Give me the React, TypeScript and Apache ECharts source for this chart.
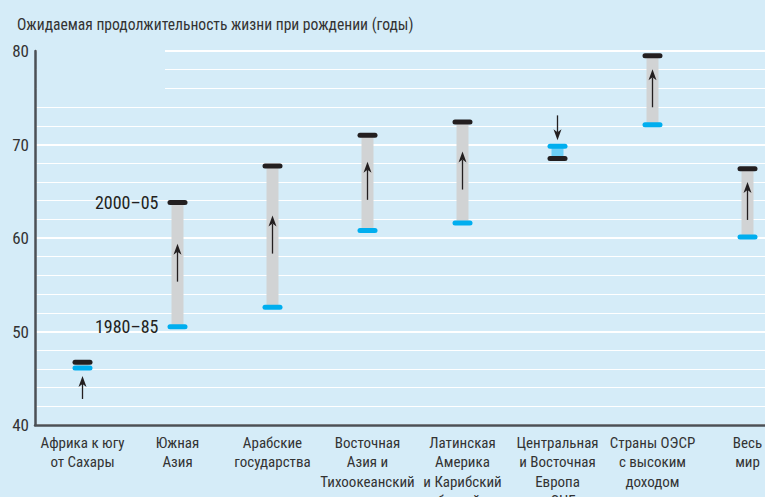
import React, { useEffect, useRef } from 'react';
import * as echarts from 'echarts';

const categories = [
  'Африка к югу\nот Сахары',
  'Южная\nАзия',
  'Арабские\nгосударства',
  'Восточная\nАзия и\nТихоокеанский\nрегион',
  'Латинская\nАмерика\nи Карибский\nбассейн',
  'Центральная\nи Восточная\nЕвропа\nи СНГ',
  'Страны ОЭСР\nс высоким\nдоходом',
  'Весь\nмир',
];
const life1980 = [46.1, 50.5, 52.6, 60.8, 61.6, 69.8, 72.1, 60.1];
const life2000 = [46.7, 63.8, 67.7, 71.0, 72.4, 68.5, 79.5, 67.4];
const periodLabels = ['1980–85', '2000–05'];
const titleText = 'Ожидаемая продолжительность жизни при рождении (годы)';

const FONT = "'Roboto Condensed', 'Liberation Sans Narrow', 'DejaVu Sans Condensed', sans-serif";
const BG = '#d5ecf8';
const INK = '#231f20';
const BLUE = '#00aeef';

export default function App() {
  const ref = useRef<HTMLDivElement>(null);
  useEffect(() => {
    const chart = echarts.init(ref.current!, null, { renderer: 'svg' });
    const data = categories.map((_, i) => [i, life1980[i], life2000[i]]);
    chart.setOption({
      animation: false,
      backgroundColor: BG,
      title: {
        text: titleText,
        left: 12,
        top: 12,
        textStyle: { fontFamily: FONT, fontSize: 15.6, fontWeight: 'normal', color: '#333' },
      },
      grid: { left: 35, top: 51, width: 760, height: 374, outerBoundsMode: 'none', containLabel: false },
      xAxis: {
        type: 'category',
        data: categories,
        boundaryGap: true,
        axisLine: { show: true, lineStyle: { color: '#4b5056', width: 2.5 } },
        axisTick: { show: false },
        axisLabel: {
          interval: 0,
          fontFamily: FONT,
          fontSize: 15,
          lineHeight: 19.5,
          color: '#333',
          margin: 8,
        },
        splitLine: { show: false },
      },
      yAxis: {
        type: 'value',
        min: 40,
        max: 80,
        interval: 10,
        axisLine: { show: true, lineStyle: { color: '#4b5056', width: 2.5 } },
        axisTick: { show: false },
        axisLabel: { fontFamily: FONT, fontSize: 17, color: '#333', margin: 6 },
        splitLine: { show: true, lineStyle: { color: '#ffffff', width: 2 } },
        minorTick: { show: false, splitNumber: 5 },
        minorSplitLine: { show: true, lineStyle: { color: '#ffffff', width: 1 } },
      },
      graphic: [
        {
          type: 'rect',
          z: 10,
          shape: { x: 37, y: 44, width: 128, height: 56 },
          style: { fill: BG },
          silent: true,
        },
      ],
      series: [
        {
          type: 'custom',
          z: 20,
          data,
          encode: { x: 0, y: [1, 2] },
          renderItem: (params: any, api: any) => {
            const i = api.value(0);
            const a = api.value(1);
            const b = api.value(2);
            const pa = api.coord([i, a]);
            const pb = api.coord([i, b]);
            const cx = pa[0];
            const ya = pa[1];
            const yb = pb[1];
            const up = b >= a;
            const top = Math.min(ya, yb);
            const bot = Math.max(ya, yb);
            const children: any[] = [];
            children.push({
              type: 'rect',
              shape: { x: cx - 6, y: top, width: 12, height: bot - top },
              style: { fill: up ? '#d1d3d4' : '#6dcff6' },
            });
            children.push({
              type: 'rect',
              shape: { x: cx - 10, y: ya - 2.5, width: 20, height: 5, r: 2.5 },
              style: { fill: BLUE },
            });
            children.push({
              type: 'rect',
              shape: { x: cx - 10, y: yb - 2.5, width: 20, height: 5, r: 2.5 },
              style: { fill: INK },
            });
            const gap = bot - top;
            let tail: number;
            let tip: number;
            if (gap > 50) {
              const mid = (top + bot) / 2 - 2;
              if (up) {
                tail = mid + 19;
                tip = mid - 19;
              } else {
                tail = mid - 19;
                tip = mid + 19;
              }
            } else if (up) {
              tail = bot + 31;
              tip = bot + 8;
            } else {
              tail = top - 31;
              tip = top - 6;
            }
            const dir = tail > tip ? 1 : -1;
            children.push({
              type: 'line',
              shape: { x1: cx, y1: tail, x2: cx, y2: tip + dir * 8 },
              style: { stroke: INK, lineWidth: 1.3 },
            });
            children.push({
              type: 'polygon',
              shape: {
                points: [
                  [cx, tip],
                  [cx - 4, tip + dir * 11],
                  [cx, tip + dir * 8],
                  [cx + 4, tip + dir * 11],
                ],
              },
              style: { fill: INK },
            });
            if (params.dataIndex === 1) {
              children.push({
                type: 'text',
                style: {
                  text: periodLabels[1],
                  x: cx - 19,
                  y: yb,
                  align: 'right',
                  verticalAlign: 'middle',
                  fontFamily: FONT,
                  fontSize: 18,
                  fill: INK,
                },
              });
              children.push({
                type: 'text',
                style: {
                  text: periodLabels[0],
                  x: cx - 19,
                  y: ya,
                  align: 'right',
                  verticalAlign: 'middle',
                  fontFamily: FONT,
                  fontSize: 18,
                  fill: INK,
                },
              });
            }
            return { type: 'group', children };
          },
        },
      ],
    });
    return () => chart.dispose();
  }, []);
  return (
    <div
      ref={ref}
      style={{ position: 'absolute', left: 0, top: 0, width: 765, height: 497, background: BG }}
    />
  );
}
